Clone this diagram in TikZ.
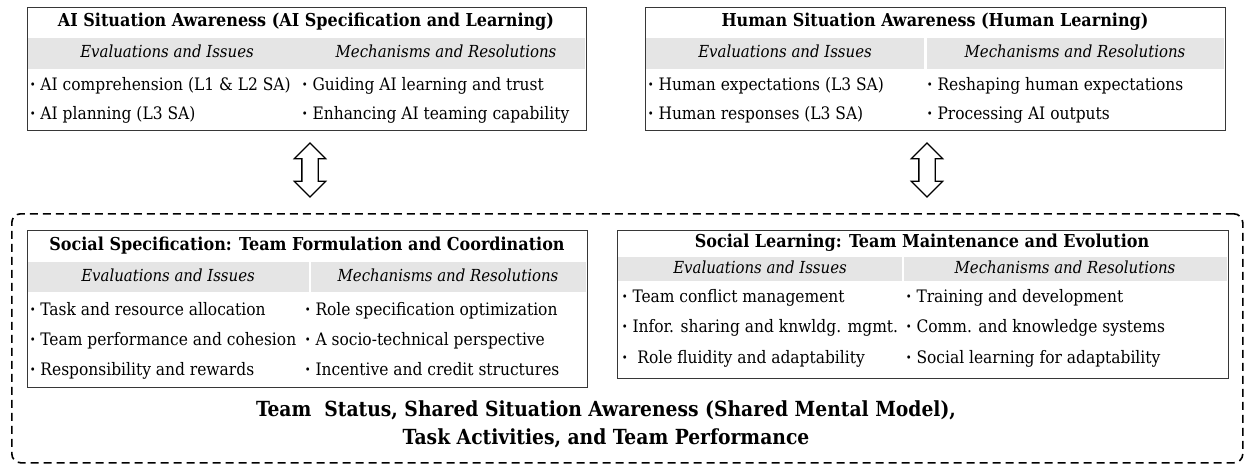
\documentclass[tikz,border=0pt]{standalone}
\usepackage{fontspec}
\setmainfont{DejaVu Serif Condensed}
\usetikzlibrary{positioning,shapes.arrows}
\definecolor{hdrgray}{RGB}{229,229,229}
\definecolor{rimgray}{RGB}{55,55,55}
\tikzset{
  panel/.style={draw=rimgray,line width=1.3pt,inner sep=0pt,anchor=north west},
  hdrbar/.style={fill=hdrgray,inner sep=0pt,anchor=north west},
  ttl/.style={font=\fontsize{17.8}{21}\selectfont\bfseries,inner sep=0pt},
  colhd/.style={font=\fontsize{16.6}{20}\selectfont\itshape,inner sep=0pt,text height=12pt,text depth=4pt},
  itm/.style={font=\fontsize{17.2}{20}\selectfont,inner sep=0pt,anchor=west,text height=12pt,text depth=4pt},
  biarrow/.style={shape=double arrow,draw,line width=1.3pt,fill=white,rotate=90,minimum height=54pt,inner xsep=0pt,inner ysep=7.5pt,double arrow head extend=7.5pt},
  teamframe/.style={draw,line width=1.6pt,rounded corners=9pt,dash pattern=on 8pt off 5pt,inner sep=0pt,anchor=north west},
  sharedtxt/.style={font=\fontsize{20.8}{28}\selectfont\bfseries,align=center,inner sep=0pt}
}
\newcommand{\dotmark}{\textbf{·}\ }

\begin{document}
\begin{tikzpicture}[x=1pt,y=-1pt]
	\useasboundingbox (0,0) rectangle (1244,465);

	% top left: AI situation awareness
	\node[hdrbar,minimum width=557pt,minimum height=31pt] (aihdr) at (28,38) {};
	\node[panel,minimum width=559pt,minimum height=123pt] (aisa) at (27,7) {};
	\node[ttl] (aittl) at (306,22) {AI Situation Awareness (AI Specification and Learning)};
	\node[colhd] (aiev) at (167,54) {Evaluations and Issues};
	\node[colhd] (aimech) at (446,54) {Mechanisms and Resolutions};
	\node[itm] (ai1) at (30,87) {\dotmark AI comprehension (L1 \& L2 SA)};
	\node[itm] [below = 29pt of ai1.west, anchor = west] (ai2) {\dotmark AI planning (L3 SA)};
	\node[itm] (ai3) at (302,87) {\dotmark Guiding AI learning and trust};
	\node[itm] [below = 29pt of ai3.west, anchor = west] (ai4) {\dotmark Enhancing AI teaming capability};

	% top right: human situation awareness
	\node[hdrbar,minimum width=278pt,minimum height=31pt] (huhdrA) at (646,38) {};
	\node[hdrbar,minimum width=297pt,minimum height=31pt] (huhdrB) at (927,38) {};
	\node[panel,minimum width=580pt,minimum height=123pt] (husa) at (645,7) {};
	\node[ttl] (huttl) at (935,22) {Human Situation Awareness (Human Learning)};
	\node[colhd] (huev) at (785,54) {Evaluations and Issues};
	\node[colhd] (humech) at (1075,54) {Mechanisms and Resolutions};
	\node[itm] (hu1) at (648,87) {\dotmark Human expectations (L3 SA)};
	\node[itm] [below = 29pt of hu1.west, anchor = west] (hu2) {\dotmark Human responses (L3 SA)};
	\node[itm] (hu3) at (927,87) {\dotmark Reshaping human expectations};
	\node[itm] [below = 29pt of hu3.west, anchor = west] (hu4) {\dotmark Processing AI outputs};

	% two way arrows
	\node[biarrow] (aiarrow) at (310,170) {};
	\node[biarrow] (huarrow) at (927,170) {};

	% dashed team frame
	\node[teamframe,minimum width=1231pt,minimum height=249pt] (team) at (11,213) {};

	% bottom left: social specification
	\node[hdrbar,minimum width=281pt,minimum height=30pt] (sshdrA) at (28,262) {};
	\node[hdrbar,minimum width=275pt,minimum height=30pt] (sshdrB) at (311,262) {};
	\node[panel,minimum width=560pt,minimum height=157pt] (socspec) at (27,230) {};
	\node[ttl] (ssttl) at (307,246) {Social Specification: Team Formulation and Coordination};
	\node[colhd] (ssev) at (168,277) {Evaluations and Issues};
	\node[colhd] (ssmech) at (448,277) {Mechanisms and Resolutions};
	\node[itm] (ss1) at (30,311) {\dotmark Task and resource allocation};
	\node[itm] [below = 30pt of ss1.west, anchor = west] (ss2) {\dotmark Team performance and cohesion};
	\node[itm] [below = 30pt of ss2.west, anchor = west] (ss3) {\dotmark Responsibility and rewards};
	\node[itm] (ss4) at (305,311) {\dotmark Role specification optimization};
	\node[itm] [below = 30pt of ss4.west, anchor = west] (ss5) {\dotmark A socio-technical perspective};
	\node[itm] [below = 30pt of ss5.west, anchor = west] (ss6) {\dotmark Incentive and credit structures};

	% bottom right: social learning
	\node[hdrbar,minimum width=284pt,minimum height=24pt] (slhdrA) at (618,257) {};
	\node[hdrbar,minimum width=323pt,minimum height=24pt] (slhdrB) at (904,257) {};
	\node[panel,minimum width=611pt,minimum height=148pt] (soclearn) at (617,230) {};
	\node[ttl] (slttl) at (922,243) {Social Learning: Team Maintenance and Evolution};
	\node[colhd] (slev) at (760,269) {Evaluations and Issues};
	\node[colhd] (slmech) at (1065,269) {Mechanisms and Resolutions};
	\node[itm] (sl1) at (622,298) {\dotmark Team conflict management};
	\node[itm] [below = 30.5pt of sl1.west, anchor = west] (sl2) {\dotmark Infor. sharing and knwldg. mgmt.};
	\node[itm] [below = 30.5pt of sl2.west, anchor = west] (sl3) {\dotmark\ Role fluidity and adaptability};
	\node[itm] (sl4) at (906,298) {\dotmark Training and development};
	\node[itm] [below = 30.5pt of sl4.west, anchor = west] (sl5) {\dotmark Comm. and knowledge systems};
	\node[itm] [below = 30.5pt of sl5.west, anchor = west] (sl6) {\dotmark Social learning for adaptability};

	% shared team state
	\node[sharedtxt] (shared) at (606,424) {Team\ \ Status, Shared Situation Awareness (Shared Mental Model),\\Task Activities, and Team Performance};

\end{tikzpicture}
\end{document}
